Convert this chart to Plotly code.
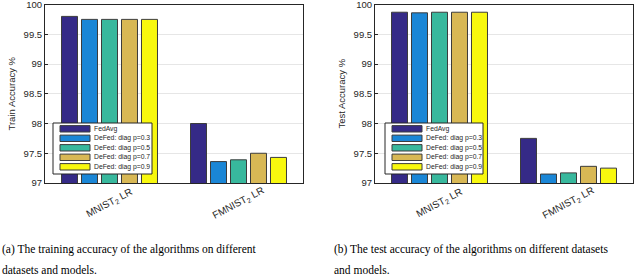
import plotly.graph_objects as go

categories = ["MNIST<sub>2</sub> LR", "FMNIST<sub>2</sub> LR"]
series_names = ["FedAvg", "DeFed: diag p=0.3", "DeFed: diag p=0.5",
                "DeFed: diag p=0.7", "DeFed: diag p=0.9"]
colors = ["#352a87", "#1a86d6", "#38b89d", "#d8b855", "#f8f80e"]

train_acc = {
    "FedAvg": [99.80, 98.00],
    "DeFed: diag p=0.3": [99.75, 97.36],
    "DeFed: diag p=0.5": [99.75, 97.39],
    "DeFed: diag p=0.7": [99.75, 97.50],
    "DeFed: diag p=0.9": [99.75, 97.43],
}
test_acc = {
    "FedAvg": [99.87, 97.75],
    "DeFed: diag p=0.3": [99.86, 97.15],
    "DeFed: diag p=0.5": [99.87, 97.17],
    "DeFed: diag p=0.7": [99.87, 97.28],
    "DeFed: diag p=0.9": [99.87, 97.25],
}
y_ticks = [97, 97.5, 98, 98.5, 99, 99.5, 100]
y_tick_labels = ["97", "97.5", "98", "98.5", "99", "99.5", "100"]
captions = [
    ["(a) The training accuracy of the algorithms on different", "datasets and models."],
    ["(b) The test accuracy of the algorithms on different datasets", "and models."],
]
y_titles = ["Train Accuracy %", "Test Accuracy %"]

W, H = 640, 276
SANS = "Liberation Sans, Arial, Helvetica"
SERIF = "Liberation Serif, Times New Roman, Times"
fig = go.Figure()

panels = [
    dict(data=train_acc, xa="x", ya="y", xdom=(45, 303), legx=(53, 152), capx=0),
    dict(data=test_acc, xa="x2", ya="y2", xdom=(375, 633), legx=(385, 483), capx=332),
]
y_top, y_bot = 4.5, 183
ydom = [1 - y_bot / H, 1 - y_top / H]

for pi, p in enumerate(panels):
    for name, col in zip(series_names, colors):
        fig.add_trace(go.Bar(
            x=categories, y=p["data"][name], name=name,
            marker=dict(color=col, line=dict(color="#3c3c3c", width=1)),
            xaxis=p["xa"], yaxis=p["ya"], showlegend=False,
        ))
    suffix = "" if pi == 0 else "2"
    axis_common = dict(showline=True, linecolor="#262626", linewidth=1, mirror=True,
                       automargin=False)
    fig.layout["xaxis" + suffix] = dict(
        domain=[p["xdom"][0] / W, p["xdom"][1] / W], anchor="y" + suffix,
        showticklabels=False, ticks="", **axis_common)
    fig.layout["yaxis" + suffix] = dict(
        domain=ydom, anchor="x" + suffix, range=[97, 100],
        tickvals=y_ticks, ticktext=y_tick_labels, ticks="inside", ticklen=3,
        tickcolor="#262626", showgrid=True, gridcolor="#e6e6e6",
        ticklabeloverflow="allow",
        tickfont=dict(family=SANS, size=9.5, color="#262626"),
        title=dict(text=y_titles[pi], standoff=6,
                   font=dict(family=SANS, size=9.5, color="#262626")),
        **axis_common)
    # rotated category labels
    for c in categories:
        fig.add_annotation(x=c, y=1 - 203 / H, xref=p["xa"], yref="paper",
                           text=c, textangle=-28, showarrow=False,
                           xanchor="center", yanchor="middle",
                           font=dict(family=SANS, size=10, color="#262626"))
    # legend box
    lx0, lx1 = p["legx"]
    ly0, ly1 = 123, 174
    fig.add_shape(type="rect", xref="paper", yref="paper",
                  x0=lx0 / W, x1=lx1 / W, y0=1 - ly1 / H, y1=1 - ly0 / H,
                  fillcolor="white", line=dict(color="#262626", width=1), layer="above")
    for i, (name, col) in enumerate(zip(series_names, colors)):
        cy = 128.8 + i * 9.5
        fig.add_shape(type="rect", xref="paper", yref="paper",
                      x0=(lx0 + 7) / W, x1=(lx0 + 37) / W,
                      y0=1 - (cy + 3.2) / H, y1=1 - (cy - 3.2) / H,
                      fillcolor=col, line=dict(color="#3c3c3c", width=1), layer="above")
        fig.add_annotation(x=(lx0 + 39) / W, y=1 - cy / H, xref="paper", yref="paper",
                           text=name, showarrow=False, xanchor="left", yanchor="middle",
                           font=dict(family=SANS, size=6.8, color="#262626"))
    # caption
    for li, line in enumerate(captions[pi]):
        fig.add_annotation(x=p["capx"] / W, y=1 - (249 + 21 * li) / H,
                           xref="paper", yref="paper", text=line,
                           showarrow=False, xanchor="left", yanchor="middle", align="left",
                           font=dict(family=SERIF, size=11.5, color="black"))

fig.update_layout(
    width=W, height=H, margin=dict(l=0, r=0, t=0, b=0),
    paper_bgcolor="white", plot_bgcolor="white",
    barmode="group", bargap=0.225, bargroupgap=0.2,
)
fig.write_html(
    "out.html",
    config={"displayModeBar": False},
    post_script="document.body.style.margin='0';document.body.style.overflow='hidden';",
)
